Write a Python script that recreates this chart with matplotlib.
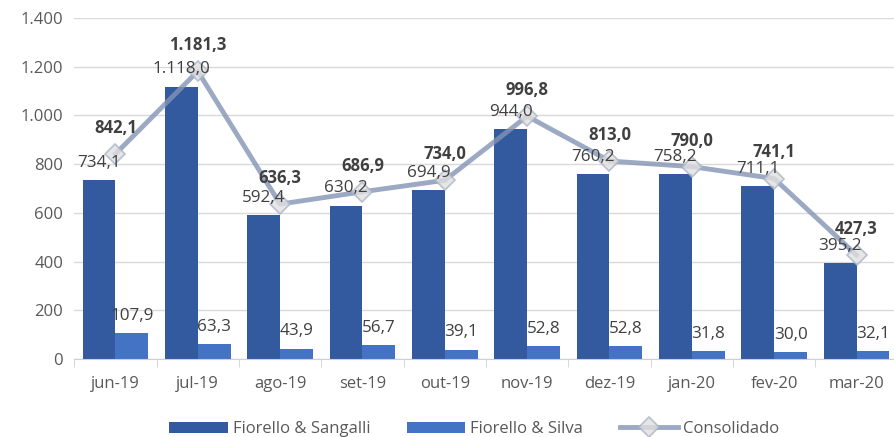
import numpy as np
import matplotlib.pyplot as plt
from matplotlib.ticker import FuncFormatter

meses = ["jun-19", "jul-19", "ago-19", "set-19", "out-19", "nov-19",
         "dez-19", "jan-20", "fev-20", "mar-20"]
sangalli = [734.1, 1118.0, 592.4, 630.2, 694.9, 944.0, 760.2, 758.2, 711.1, 395.2]
silva = [107.9, 63.3, 43.9, 56.7, 39.1, 52.8, 52.8, 31.8, 30.0, 32.1]
consolidado = [842.1, 1181.3, 636.3, 686.9, 734.0, 996.8, 813.0, 790.0, 741.1, 427.3]


def br(v, dec=1):
    # formato brasileiro: 1.118,0
    s = "{:,.{}f}".format(v, dec)
    return s.replace(",", "X").replace(".", ",").replace("X", ".")


plt.rcParams['font.family'] = ['Open Sans', 'DejaVu Sans']
txt = '#404040'
tick_c = '#595959'

fig = plt.figure(figsize=(8.95, 4.37), dpi=100)
ax = fig.add_axes([0.083, 0.178, 0.92, 0.781])

x = np.arange(len(meses))
w = 0.40
ax.bar(x - w/2, sangalli, w, color='#335A9F', label='Fiorello & Sangalli', zorder=2)
ax.bar(x + w/2, silva, w, color='#4472C4', label='Fiorello & Silva', zorder=2)
ax.plot(x, consolidado, color='#8494B5', lw=3.5, marker='D', ms=10, alpha=0.8,
        mfc='#E0E0E0', mec='#A9B3C8', mew=1.2, label='Consolidado', zorder=3)

# rótulos por cima da linha
for xi, v in zip(x, sangalli):
    ax.text(xi - w/2, v + 38, br(v), ha='center', va='bottom', fontsize=12.3,
            color=txt, zorder=6)
for xi, v in zip(x, silva):
    ax.text(xi + w/2, v + 38, br(v), ha='center', va='bottom', fontsize=12.3,
            color=txt, zorder=6)
for xi, v in zip(x, consolidado):
    ax.text(xi, v + 70, br(v), ha='center', va='bottom', fontsize=12,
            color=txt, fontweight='bold', zorder=6)

ax.set_xlim(-0.5, len(meses) - 0.5)
ax.set_ylim(0, 1400)
ax.set_yticks(np.arange(0, 1401, 200))
ax.yaxis.set_major_formatter(FuncFormatter(lambda v, p: br(v, 0)))
ax.set_xticks(x)
ax.set_xticklabels(meses)
ax.set_xticks(np.arange(-0.5, len(meses), 1), minor=True)
ax.tick_params(axis='x', which='major', length=0, pad=12, labelsize=12, labelcolor=tick_c)
ax.tick_params(axis='x', which='minor', length=6, color='#D0D0D0')
ax.tick_params(axis='y', length=0, pad=8, labelsize=12, labelcolor=tick_c)
ax.grid(axis='y', color='#D9D9D9', lw=1, zorder=0)
ax.set_axisbelow(True)
for s in ['top', 'right', 'left']:
    ax.spines[s].set_visible(False)
ax.spines['bottom'].set_color('#D0D0D0')

h, l = ax.get_legend_handles_labels()
order = [1, 2, 0]
fig.legend([h[i] for i in order], [l[i] for i in order], loc='lower center',
           bbox_to_anchor=(0.53, -0.035), ncol=3, frameon=False,
           fontsize=12, labelcolor=tick_c, handlelength=3.5, columnspacing=2.2,
           handletextpad=0.3)

fig.savefig("out.png", dpi=100)
